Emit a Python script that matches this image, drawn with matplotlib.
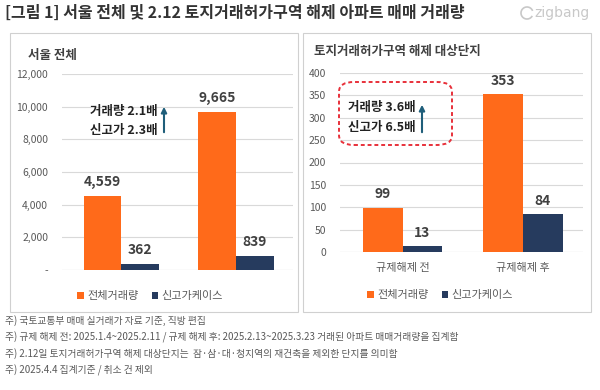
import numpy as np
import matplotlib.pyplot as plt
from matplotlib.patches import Rectangle, FancyBboxPatch, Arc

plt.rcParams['font.family'] = ['Noto Sans CJK KR', 'DejaVu Sans']

# data
series = ['전체거래량', '신고가케이스']
seoul_total = [4559, 9665]
seoul_high = [362, 839]
zone_groups = ['규제해제 전', '규제해제 후']
zone_total = [99, 353]
zone_high = [13, 84]

ORANGE = '#FF6A1A'
NAVY = '#263B5E'
GRID = '#D9D9D9'
TXT = '#404040'

W, H = 600, 390
fig = plt.figure(figsize=(W / 100, H / 100), dpi=100)


def px_rect(x0, y0, x1, y1):
    # pixel box (top-left origin) -> figure fraction
    return [x0 / W, 1 - y1 / H, (x1 - x0) / W, (y1 - y0) / H]


def fx(x):
    return x / W


def fy(y):
    return 1 - y / H


# panel frames
for x0, x1 in [(10, 298), (303, 591)]:
    fig.patches.append(Rectangle((fx(x0), fy(312)), fx(x1) - fx(x0), fy(33) - fy(312),
                                 transform=fig.transFigure, fill=False,
                                 edgecolor='#D0D0D0', linewidth=0.8))

fig.text(fx(5), fy(13), '[그림 1] 서울 전체 및 2.12 토지거래허가구역 해제 아파트 매매 거래량',
         fontsize=11.5, fontweight='bold', color='#333333', va='center', ha='left')
fig.text(fx(590), fy(13), 'zigbang', fontsize=10, color='#C8C8C8', va='center', ha='right',
         family=['DejaVu Sans'])
# small logo mark
fig.patches.append(Arc((fx(527), fy(13)), 12 / W, 12 / H, theta1=30, theta2=320,
                       transform=fig.transFigure, color='#C8C8C8', lw=1.2))

def draw(ax, total, high, ymax, step, yfmt, groups):
    x = np.arange(len(total))
    w = 0.33
    ax.bar(x - w / 2, total, w, color=ORANGE, label=series[0], zorder=3)
    ax.bar(x + w / 2, high, w, color=NAVY, label=series[1], zorder=3)
    ax.set_ylim(0, ymax)
    ax.set_xlim(-0.52, 1.5)
    ticks = np.arange(0, ymax + 1, step)
    ax.set_yticks(ticks)
    ax.set_yticklabels([yfmt(t) for t in ticks])
    ax.yaxis.grid(True, color=GRID, linewidth=0.8, zorder=0)
    ax.tick_params(axis='y', length=0, labelsize=7.5, labelcolor='#595959', pad=10)
    for s in ax.spines.values():
        s.set_visible(False)
    ax.axhline(0, color=GRID, linewidth=0.8, zorder=2)
    if groups:
        ax.set_xticks(x)
        ax.set_xticklabels(groups)
        ax.tick_params(axis='x', length=0, labelsize=8, labelcolor='#595959', pad=8)
    else:
        ax.set_xticks([])
    off = ymax * 0.035
    for xi, v in zip(x, total):
        ax.text(xi - w / 2, v + off, f'{v:,}', ha='center', va='bottom', fontsize=10,
                color=TXT, fontweight='bold')
    for xi, v in zip(x, high):
        ax.text(xi + w / 2, v + off, f'{v:,}', ha='center', va='bottom', fontsize=10,
                color=TXT, fontweight='bold')


ax1 = fig.add_axes(px_rect(62, 74, 293, 270))
draw(ax1, seoul_total, seoul_high, 12000, 2000,
     lambda t: '-' if t == 0 else f'{int(t):,}', None)
ax2 = fig.add_axes(px_rect(340, 73, 583, 252))
draw(ax2, zone_total, zone_high, 400, 50, lambda t: f'{int(t)}', zone_groups)

# panel titles
fig.text(fx(28), fy(55), '서울 전체', fontsize=9, color='#404040', fontweight='bold', va='center')
fig.text(fx(314), fy(52), '토지거래허가구역 해제 대상단지', fontsize=9, color='#404040',
         fontweight='bold', va='center')

# annotations
for tx, ys, ax_x, arr, lines in [
    (90, (111, 131), 164, (135, 104), ['거래량 2.1배', '신고가 2.3배']),
    (348, (108, 128), 422, (135, 102), ['거래량 3.6배', '신고가 6.5배']),
]:
    for yy, s in zip(ys, lines):
        fig.text(fx(tx), fy(yy), s, fontsize=9, fontweight='bold', color='#222222', va='center')
    fig.add_artist(plt.Annotation('', xy=(fx(ax_x), fy(arr[1])), xytext=(fx(ax_x), fy(arr[0])),
                                  xycoords='figure fraction',
                                  arrowprops=dict(arrowstyle='-|>', color='#1F5E7A', lw=1.5,
                                                  mutation_scale=8)))

fig.patches.append(FancyBboxPatch((fx(339), fy(145)), fx(452) - fx(339), fy(82) - fy(145),
                                  boxstyle='round,pad=0,rounding_size=0.025',
                                  transform=fig.transFigure, fill=False, edgecolor='#E8303A',
                                  linestyle=(0, (2, 1.5)), linewidth=1.4))

# legends
for cx, cy in [(150, 296), (440, 295)]:
    handles, labels = ax1.get_legend_handles_labels()
    fig.legend(handles, labels, loc='center', bbox_to_anchor=(fx(cx), fy(cy)), ncol=2,
               frameon=False, fontsize=8, handlelength=0.6, handleheight=0.6,
               handletextpad=0.3, columnspacing=1.2, labelcolor='#595959')

notes = [
    '주) 국토교통부 매매 실거래가 자료 기준, 직방 편집',
    '주) 규제 해제 전: 2025.1.4~2025.2.11 / 규제 해제 후: 2025.2.13~2025.3.23 거래된 아파트 매매거래량을 집계함',
    '주) 2.12일 토지거래허가구역 해제 대상단지는  잠·삼·대·청지역의 재건축을 제외한 단지를 의미함',
    '주) 2025.4.4 집계기준 / 취소 건 제외',
]
for i, n in enumerate(notes):
    fig.text(fx(5), fy(321 + 16.5 * i), n, fontsize=7, color='#595959', va='center')

fig.savefig('out.png', dpi=100)
